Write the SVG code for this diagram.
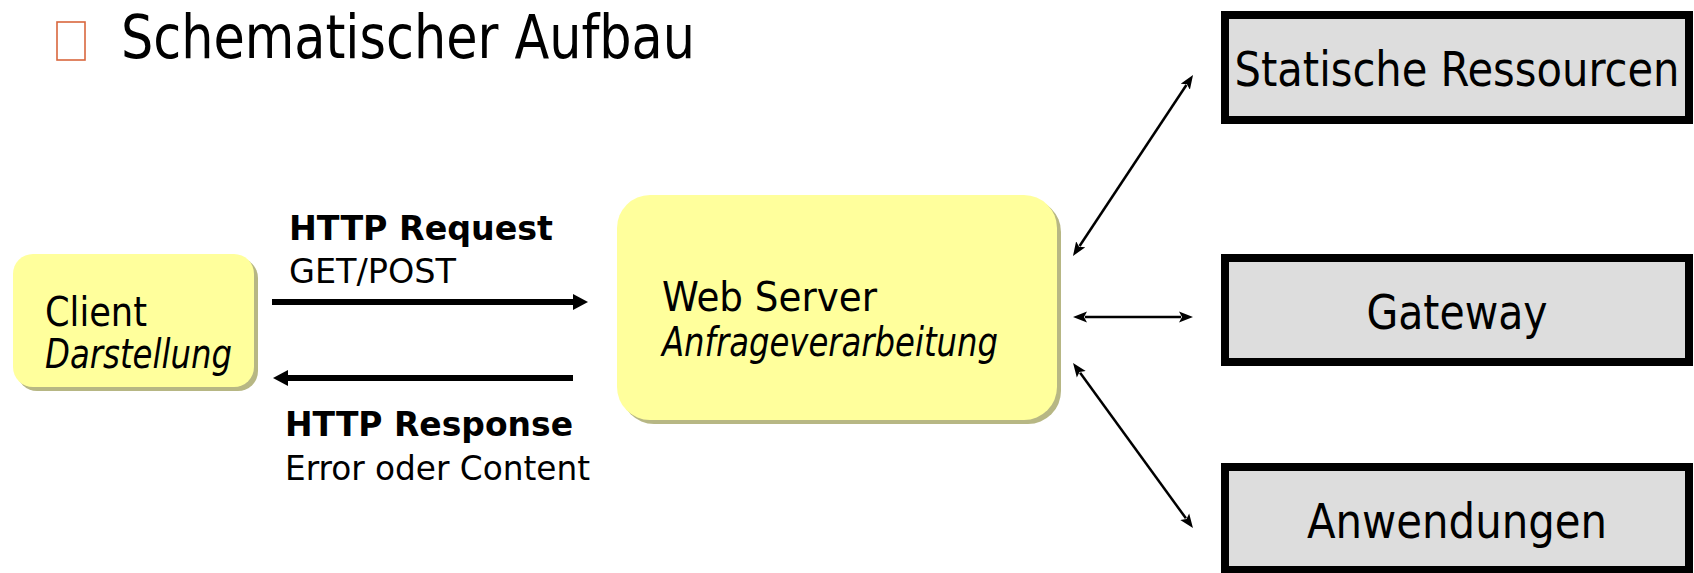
<svg xmlns="http://www.w3.org/2000/svg" width="1694" height="573" viewBox="0 0 1694 573">
  <style>
    text { font-family: "DejaVu Sans Condensed", "DejaVu Sans", "Liberation Sans", sans-serif; fill: #000; }
    .title { font-size: 61px; }
    .node-label { font-size: 40px; }
    .sub { font-style: italic; }
    .msg { font-size: 34px; }
    .msg-b { font-size: 34px; font-weight: bold; }
    .res-label { font-size: 48px; text-anchor: middle; }
    .yellow { fill: #FFFF9C; }
    .shadow { fill: #B7B784; }
    .res-box { fill: #DDDDDD; stroke: #000; stroke-width: 8; }
    .thick { stroke: #000; stroke-width: 6; fill: none; }
    .thin { stroke: #000; stroke-width: 2.5; fill: none; }
  </style>
  <defs>
    <marker id="bigHead" markerUnits="userSpaceOnUse" markerWidth="18" markerHeight="18" viewBox="0 -9 18 18" refX="1" refY="0" orient="auto-start-reverse">
      <path d="M0,-8 L15,0 L0,8 z" fill="#000"/>
    </marker>
    <marker id="smallHead" markerUnits="userSpaceOnUse" markerWidth="16" markerHeight="14" viewBox="0 -7 16 14" refX="2" refY="0" orient="auto-start-reverse">
      <path d="M0,-5.5 L14,0 L0,5.5 L3,0 z" fill="#000"/>
    </marker>
  </defs>

  <rect width="1694" height="573" fill="#FFFFFF"/>

  <!-- heading -->
  <g id="heading">
    <rect x="57" y="22" width="28" height="38" fill="none" stroke="#D9673E" stroke-width="1.6"/>
    <text class="title" x="121" y="58" textLength="574" lengthAdjust="spacingAndGlyphs">Schematischer Aufbau</text>
  </g>

  <!-- client -->
  <g id="client">
    <rect class="shadow" x="17" y="258" width="241" height="133" rx="20"/>
    <rect class="yellow" x="13" y="254" width="241" height="133" rx="20"/>
    <text class="node-label" x="45" y="326" textLength="102" lengthAdjust="spacingAndGlyphs">Client</text>
    <text class="node-label sub" x="45" y="368" textLength="187" lengthAdjust="spacingAndGlyphs">Darstellung</text>
  </g>

  <!-- web server -->
  <g id="web-server">
    <rect class="shadow" x="621" y="199" width="440" height="225" rx="33"/>
    <rect class="yellow" x="617" y="195" width="440" height="225" rx="33"/>
    <text class="node-label" x="662" y="311" textLength="215" lengthAdjust="spacingAndGlyphs">Web Server</text>
    <text class="node-label sub" x="662" y="356" textLength="336" lengthAdjust="spacingAndGlyphs">Anfrageverarbeitung</text>
  </g>

  <!-- back-end resources -->
  <g id="static-resources">
    <rect class="res-box" x="1225" y="15" width="464" height="105"/>
    <text class="res-label" x="1457" y="86" textLength="445" lengthAdjust="spacingAndGlyphs">Statische Ressourcen</text>
  </g>
  <g id="gateway">
    <rect class="res-box" x="1225" y="258" width="464" height="104"/>
    <text class="res-label" x="1457" y="329" textLength="181" lengthAdjust="spacingAndGlyphs">Gateway</text>
  </g>
  <g id="applications">
    <rect class="res-box" x="1225" y="467" width="464" height="103"/>
    <text class="res-label" x="1457" y="538" textLength="300" lengthAdjust="spacingAndGlyphs">Anwendungen</text>
  </g>

  <!-- connectors -->
  <g id="connectors">
    <path class="thick" d="M272,302 L574,302" marker-end="url(#bigHead)"/>
    <path class="thick" d="M573,378 L287,378" marker-end="url(#bigHead)"/>
    <path class="thin" d="M1079.6,246 L1186.4,85" marker-start="url(#smallHead)" marker-end="url(#smallHead)"/>
    <path class="thin" d="M1085,317 L1181,317" marker-start="url(#smallHead)" marker-end="url(#smallHead)"/>
    <path class="thin" d="M1080.1,372.7 L1185.9,518.3" marker-start="url(#smallHead)" marker-end="url(#smallHead)"/>
  </g>

  <!-- message labels -->
  <g id="request-label">
    <text class="msg-b" x="289" y="240" textLength="264" lengthAdjust="spacingAndGlyphs">HTTP Request</text>
    <text class="msg" x="289" y="283" textLength="167" lengthAdjust="spacingAndGlyphs">GET/POST</text>
  </g>
  <g id="response-label">
    <text class="msg-b" x="285" y="436" textLength="288" lengthAdjust="spacingAndGlyphs">HTTP Response</text>
    <text class="msg" x="285" y="480" textLength="305" lengthAdjust="spacingAndGlyphs">Error oder Content</text>
  </g>
</svg>
